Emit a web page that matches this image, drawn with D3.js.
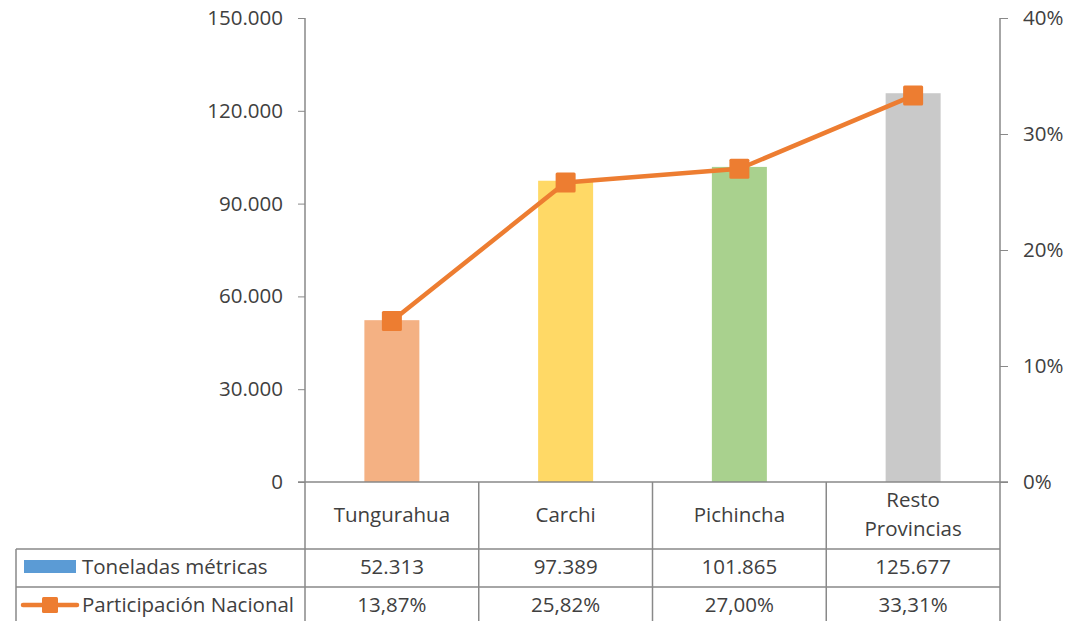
<!DOCTYPE html>
<html><head><meta charset="utf-8">
<script src="https://cdn.jsdelivr.net/npm/d3@7"></script>
<style>
html,body{margin:0;padding:0;background:#fff;}
svg{display:block;}
text{font-family:"Open Sans","Liberation Sans",sans-serif;fill:#404040;}
</style></head>
<body>
<svg id="chart" width="1088" height="621"></svg>
<script>
const categories = ["Tungurahua", "Carchi", "Pichincha", "Resto Provincias"];
const tons = [52313, 97389, 101865, 125677];
const share = [13.87, 25.82, 27.00, 33.31];
const barColors = ["#F4B183", "#FFD966", "#A9D18E", "#C9C9C9"];
const leftTicks = [0, 30000, 60000, 90000, 120000, 150000];
const rightTicks = [0, 10, 20, 30, 40];
const seriesNames = ["Toneladas métricas", "Participación Nacional"];

const loc = d3.formatLocale({decimal: ",", thousands: ".", grouping: [3], currency: ["$", ""]});
const fmtTons = loc.format(",.0f");
const fmtPct = v => loc.format(".2f")(v) + "%";

const svg = d3.select("#chart");
const L = 305, R = 1000, T = 18, B = 482;
const gridCol = "#898989";
const fs = 20.5;

const x = d3.scaleBand().domain(categories).range([L, R]).paddingInner(0).paddingOuter(0);
const yL = d3.scaleLinear().domain([0, 150000]).range([B, T]);
const yR = d3.scaleLinear().domain([0, 40]).range([B, T]);

// bars
const bw = 55;
svg.append("g").selectAll("rect").data(categories).join("rect")
  .attr("x", d => x(d) + x.bandwidth() / 2 - bw / 2)
  .attr("y", (d, i) => yL(tons[i]))
  .attr("width", bw)
  .attr("height", (d, i) => B - yL(tons[i]))
  .attr("fill", (d, i) => barColors[i]);

// left axis
const gl = svg.append("g").attr("transform", `translate(${L},0)`)
  .call(d3.axisLeft(yL).tickValues(leftTicks).tickFormat(d => d === 0 ? "0" : fmtTons(d)).tickSize(7).tickPadding(15));
gl.select(".domain").remove();
gl.selectAll(".tick line").attr("stroke", gridCol);
gl.selectAll(".tick text").style("font-size", fs + "px").style("font-family", "Open Sans").attr("fill", "#404040");
svg.append("line").attr("x1", L).attr("x2", L).attr("y1", T).attr("y2", B).attr("stroke", gridCol).attr("stroke-width", 1.5);

// right axis
const gr = svg.append("g").attr("transform", `translate(${R},0)`)
  .call(d3.axisRight(yR).tickValues(rightTicks).tickFormat(d => d + "%").tickSize(8).tickPadding(15));
gr.select(".domain").remove();
gr.selectAll(".tick line").attr("stroke", gridCol);
gr.selectAll(".tick text").style("font-size", fs + "px").style("font-family", "Open Sans").attr("fill", "#404040");
svg.append("line").attr("x1", R).attr("x2", R).attr("y1", T).attr("y2", B).attr("stroke", gridCol).attr("stroke-width", 1.5);

// line series
const line = d3.line().x(d => x(d.c) + x.bandwidth() / 2).y(d => yR(d.v));
const pts = categories.map((c, i) => ({c, v: share[i]}));
svg.append("path").datum(pts).attr("d", line).attr("fill", "none")
  .attr("stroke", "#ED7D31").attr("stroke-width", 4.5).attr("stroke-linejoin", "round");
const ms = 20;
svg.append("g").selectAll("rect").data(pts).join("rect")
  .attr("x", d => x(d.c) + x.bandwidth() / 2 - ms / 2)
  .attr("y", d => yR(d.v) - ms / 2)
  .attr("width", ms).attr("height", ms).attr("rx", 1.5)
  .attr("fill", "#ED7D31");

// data table
const r1 = 549, r2 = 587, r3 = 626;
const tg = svg.append("g").attr("stroke", gridCol).attr("stroke-width", 1.5);
tg.append("line").attr("x1", L - 7).attr("x2", R + 8).attr("y1", B).attr("y2", B);
tg.append("line").attr("x1", 16).attr("x2", R).attr("y1", r1).attr("y2", r1);
tg.append("line").attr("x1", 16).attr("x2", R).attr("y1", r2).attr("y2", r2);
tg.append("line").attr("x1", 16).attr("x2", R).attr("y1", r3).attr("y2", r3);
tg.append("line").attr("x1", 16).attr("x2", 16).attr("y1", r1).attr("y2", r3);
const vx = [L].concat(categories.map(c => x(c) + x.bandwidth()));
tg.selectAll("line.v").data(vx).join("line").attr("class", "v")
  .attr("x1", d => d).attr("x2", d => d).attr("y1", B).attr("y2", r3);

// category labels
const cg = svg.append("g");
categories.forEach(c => {
  const cx = x(c) + x.bandwidth() / 2;
  const words = c === "Resto Provincias" ? ["Resto", "Provincias"] : [c];
  const t = cg.append("text").attr("x", cx).attr("text-anchor", "middle").style("font-size", fs + "px");
  if (words.length === 1) {
    t.append("tspan").attr("x", cx).attr("y", 515).attr("dy", "0.35em").text(words[0]);
  } else {
    t.append("tspan").attr("x", cx).attr("y", 500).attr("dy", "0.35em").text(words[0]);
    t.append("tspan").attr("x", cx).attr("y", 529).attr("dy", "0.35em").text(words[1]);
  }
});

// values rows
svg.append("g").selectAll("text").data(categories).join("text")
  .attr("x", d => x(d) + x.bandwidth() / 2).attr("y", 567).attr("dy", "0.35em")
  .attr("text-anchor", "middle").style("font-size", fs + "px")
  .text((d, i) => fmtTons(tons[i]));
svg.append("g").selectAll("text").data(categories).join("text")
  .attr("x", d => x(d) + x.bandwidth() / 2).attr("y", 605).attr("dy", "0.35em")
  .attr("text-anchor", "middle").style("font-size", fs + "px")
  .text((d, i) => fmtPct(share[i]));

// legend keys
svg.append("rect").attr("x", 24).attr("y", 560).attr("width", 52).attr("height", 13).attr("fill", "#5B9BD5");
svg.append("text").attr("x", 82).attr("y", 567).attr("dy", "0.35em").style("font-size", fs + "px").text(seriesNames[0]);
svg.append("line").attr("x1", 23).attr("x2", 77).attr("y1", 605).attr("y2", 605)
  .attr("stroke", "#ED7D31").attr("stroke-width", 4.5).attr("stroke-linecap", "round");
svg.append("rect").attr("x", 42).attr("y", 597).attr("width", 16).attr("height", 16).attr("rx", 1.5).attr("fill", "#ED7D31");
svg.append("text").attr("x", 82).attr("y", 605).attr("dy", "0.35em").style("font-size", fs + "px").text(seriesNames[1]);
</script>
</body></html>
